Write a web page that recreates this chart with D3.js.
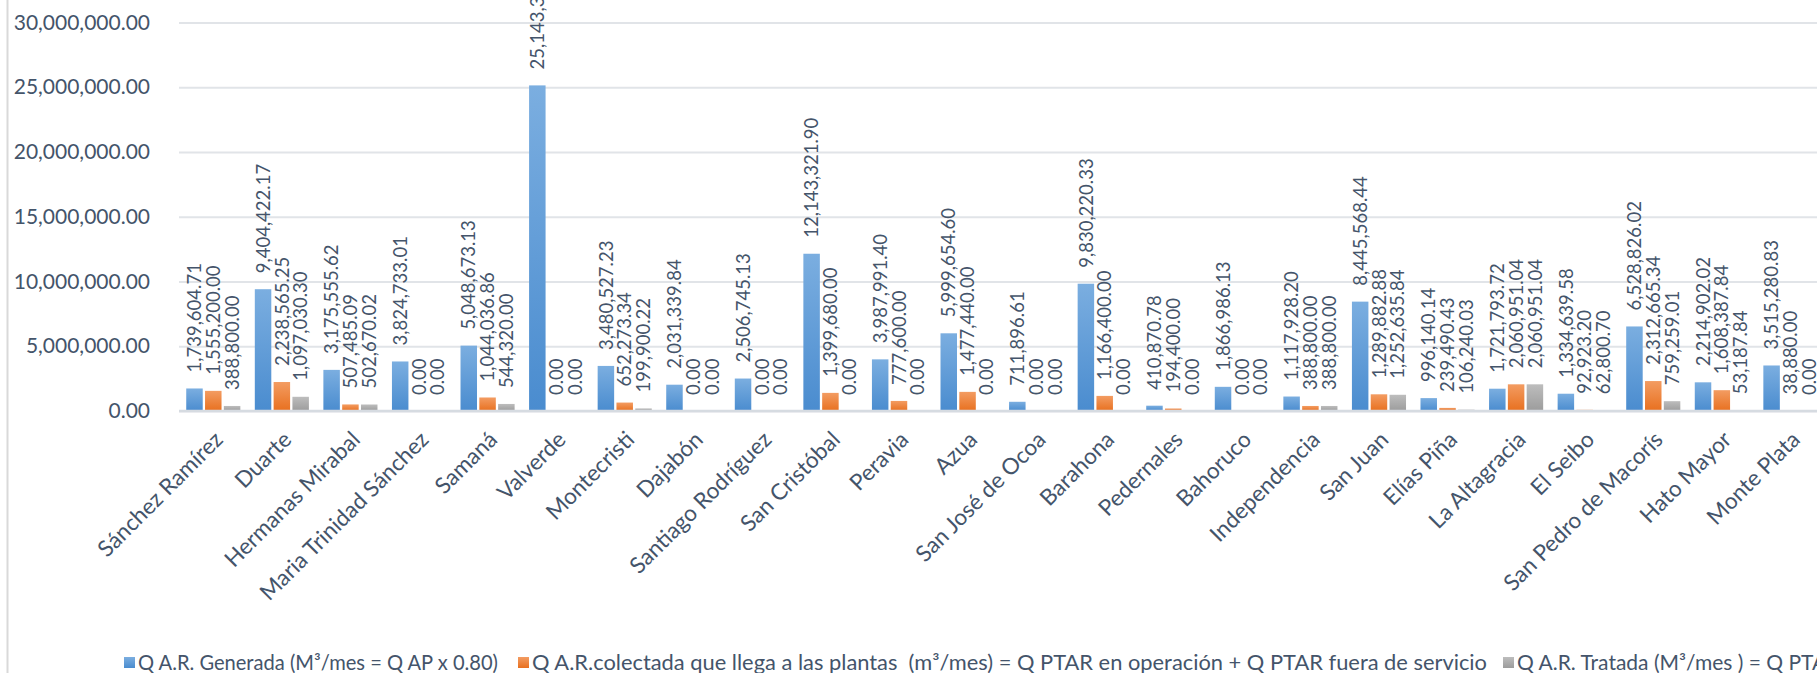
<!DOCTYPE html>
<html>
<head>
<meta charset="utf-8">
<script src="https://cdn.jsdelivr.net/npm/d3@7"></script>
<style>
  body { margin: 0; background: #fff; }
  text { font-family: Lato, "Open Sans", sans-serif; fill: #44546A; }
</style>
</head>
<body>
<div id="chart"></div>
<script>
const categories = ["Sánchez Ramírez", "Duarte", "Hermanas Mirabal", "Maria Trinidad Sánchez", "Samaná", "Valverde",
  "Montecristi", "Dajabón", "Santiago Rodríguez", "San Cristóbal", "Peravia", "Azua", "San José de Ocoa", "Barahona",
  "Pedernales", "Bahoruco", "Independencia", "San Juan", "Elías Piña", "La Altagracia", "El Seibo",
  "San Pedro de Macorís", "Hato Mayor", "Monte Plata"];

const generada = [1739604.71, 9404422.17, 3175555.62, 3824733.01, 5048673.13, 25143352.47,
  3480527.23, 2031339.84, 2506745.13, 12143321.90, 3987991.40, 5999654.60, 711896.61, 9830220.33,
  410870.78, 1866986.13, 1117928.20, 8445568.44, 996140.14, 1721793.72, 1334639.58,
  6528826.02, 2214902.02, 3515280.83];

const colectada = [1555200.00, 2238565.25, 507485.09, 0, 1044036.86, 0,
  652273.34, 0, 0, 1399680.00, 777600.00, 1477440.00, 0, 1166400.00,
  194400.00, 0, 388800.00, 1289882.88, 239490.43, 2060951.04, 92923.20,
  2312665.34, 1608387.84, 38880.00];

const tratada = [388800.00, 1097030.30, 502670.02, 0, 544320.00, 0,
  199900.22, 0, 0, 0, 0, 0, 0, 0,
  0, 0, 388800.00, 1252635.84, 106240.03, 2060951.04, 62800.70,
  759259.01, 53187.84, 0];

const seriesNames = [
  "Q A.R. Generada (M³/mes = Q AP x 0.80)",
  "Q A.R.colectada que llega a las plantas  (m³/mes) = Q PTAR en operación + Q PTAR fuera de servicio",
  "Q A.R. Tratada (M³/mes ) = Q PTAR en operación"
];

const yTicks = [0, 5000000, 10000000, 15000000, 20000000, 25000000, 30000000];

const W = 1817, H = 673;
const plotLeft = 179, step = 68.57, y0 = 411, yTop = 22.5;
const plotRight = plotLeft + step * categories.length;

const colors = [
  { top: "#7BAEE0", bottom: "#4A8CCF" },
  { top: "#F39C62", bottom: "#E8701F" },
  { top: "#BDBDBD", bottom: "#9C9C9C" }
];

const svg = d3.select("#chart").append("svg")
  .attr("width", W).attr("height", H);

const defs = svg.append("defs");
colors.forEach((c, i) => {
  const g = defs.append("linearGradient").attr("id", "grad" + i)
    .attr("x1", 0).attr("y1", 0).attr("x2", 0).attr("y2", 1);
  g.append("stop").attr("offset", "0%").attr("stop-color", c.top);
  g.append("stop").attr("offset", "100%").attr("stop-color", c.bottom);
});

// chart border on the left
svg.append("line")
  .attr("x1", 7.5).attr("x2", 7.5).attr("y1", 0).attr("y2", H)
  .attr("stroke", "#d9d9d9").attr("stroke-width", 2);

const x0 = d3.scaleBand()
  .domain(categories)
  .range([plotLeft, plotRight])
  .paddingInner(0.211)
  .paddingOuter(0.1055);

const x1 = d3.scaleBand()
  .domain([0, 1, 2])
  .range([0, x0.bandwidth()])
  .paddingInner(0.123);

const y = d3.scaleLinear()
  .domain([0, 30000000])
  .range([y0, yTop]);

const fmt = d3.format(",.2f");

// Y axis with gridlines
const yAxis = svg.append("g")
  .attr("transform", `translate(${plotLeft},0)`)
  .call(d3.axisLeft(y).tickValues(yTicks).tickFormat(fmt)
    .tickSizeInner(-(plotRight - plotLeft)).tickSizeOuter(0).tickPadding(29));
yAxis.select(".domain").remove();
yAxis.selectAll(".tick line")
  .attr("stroke", "#e1e4e8").attr("stroke-width", 2);
yAxis.selectAll(".tick text")
  .style("font-size", "21px").attr("fill", "#44546A");

// bars
const seriesData = [generada, colectada, tratada];
const groups = svg.selectAll("g.series")
  .data(seriesData)
  .enter().append("g")
  .attr("class", "series");

groups.each(function (vals, si) {
  const g = d3.select(this);
  g.selectAll("rect")
    .data(vals)
    .enter().append("rect")
    .attr("x", (d, i) => x0(categories[i]) + x1(si))
    .attr("y", d => y(d))
    .attr("width", x1.bandwidth())
    .attr("height", d => y(0) - y(d))
    .attr("fill", `url(#grad${si})`);
});

// x axis line
svg.append("line")
  .attr("x1", plotLeft).attr("x2", plotRight)
  .attr("y1", y(0)).attr("y2", y(0))
  .attr("stroke", "#d6dbe1").attr("stroke-width", 2.5);

// data labels
groups.each(function (vals, si) {
  const g = d3.select(this);
  g.selectAll("text")
    .data(vals)
    .enter().append("text")
    .attr("transform", (d, i) => {
      const cx = x0(categories[i]) + x1(si) + x1.bandwidth() / 2;
      return `translate(${cx},${y(d) - 16}) rotate(-90)`;
    })
    .attr("dy", "0.36em")
    .style("font-size", "18.5px")
    .text(d => fmt(d));
});

// category labels
const xAxis = svg.append("g")
  .attr("transform", `translate(0,${y(0)})`)
  .call(d3.axisBottom(x0).tickSize(0).tickPadding(0));
xAxis.select(".domain").remove();
xAxis.selectAll(".tick text")
  .attr("y", 0).attr("dy", 0)
  .attr("transform", "translate(11,30) rotate(-45)")
  .style("text-anchor", "end")
  .style("font-size", "22.5px")
  .attr("fill", "#44546A");

// legend
const legendX = [124, 518, 1503];
const legendLen = [360, 955, 0];
const legend = svg.selectAll("g.legend")
  .data(seriesNames)
  .enter().append("g")
  .attr("class", "legend")
  .attr("transform", (d, i) => `translate(${legendX[i]},663)`);
legend.append("rect")
  .attr("x", 0).attr("y", -6).attr("width", 11).attr("height", 11)
  .attr("fill", (d, i) => `url(#grad${i})`);
legend.append("text")
  .attr("x", 14).attr("dy", "0.35em")
  .style("font-size", "21px")
  .style("white-space", "pre")
  .each(function (d, i) {
    if (legendLen[i]) d3.select(this).attr("textLength", legendLen[i]).attr("lengthAdjust", "spacingAndGlyphs");
  })
  .text(d => d);
</script>
</body>
</html>
